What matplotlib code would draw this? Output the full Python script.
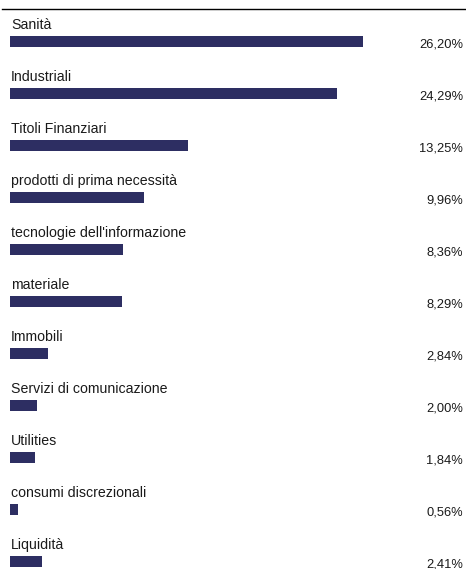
import matplotlib.pyplot as plt
import numpy as np

categories = ["Sanità", "Industriali", "Titoli Finanziari", "prodotti di prima necessità",
              "tecnologie dell'informazione", "materiale", "Immobili",
              "Servizi di comunicazione", "Utilities", "consumi discrezionali", "Liquidità"]
values = [26.20, 24.29, 13.25, 9.96, 8.36, 8.29, 2.84, 2.00, 1.84, 0.56, 2.41]
value_labels = ["26,20%", "24,29%", "13,25%", "9,96%", "8,36%", "8,29%",
                "2,84%", "2,00%", "1,84%", "0,56%", "2,41%"]

plt.rcParams['font.family'] = ['Liberation Sans', 'DejaVu Sans']
W, H = 466, 569
fig = plt.figure(figsize=(W/100, H/100), dpi=100)

# pixel layout: bars start at x=10, 13.47 px per percent, rows 52 px apart
px_per_unit = 13.47
ax = fig.add_axes([10/W, 0, (W-10)/W, 1])
ax.set_xlim(0, (W-10)/px_per_unit)
row = 52.0
first = 41.5
ax.set_ylim((H-first)/row, -first/row)
ax.axis('off')

y = np.arange(len(categories))
ax.barh(y, values, height=11/row, color='#2d2e62', left=0)

tr = ax.get_yaxis_transform()
for i, (cat, lab) in enumerate(zip(categories, value_labels)):
    ax.text(0.002, i - 12.3/row, cat, transform=tr, fontsize=10.2,
            ha='left', va='baseline', color='#1a1a1a')
    ax.text((463-10)/(W-10), i + 5.8/row, lab, transform=tr, fontsize=9.3,
            ha='right', va='baseline', color='#1a1a1a')

fig.add_artist(plt.Line2D([2/W, 1], [1-9/H, 1-9/H], color='black', lw=1.0))

fig.savefig('out.png', dpi=100, facecolor='white')
